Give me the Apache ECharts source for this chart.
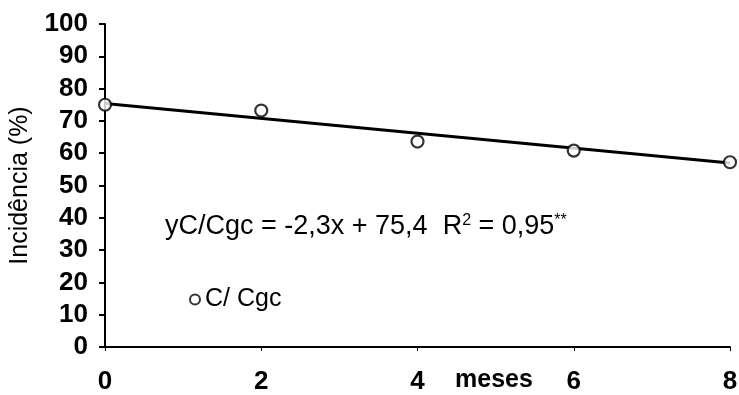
<!DOCTYPE html>
<html>
<head>
<meta charset="utf-8">
<script src="https://cdn.jsdelivr.net/npm/echarts@6/dist/echarts.min.js"></script>
<style>
  html, body { margin: 0; padding: 0; background: #fff; }
  #chart { width: 739px; height: 395px; }
</style>
</head>
<body>
<div id="chart"></div>
<script>
// Months since treatment and observed incidence (%) for the C/ Cgc group
const months = [0, 2, 4, 6, 8];
const incidence = [75.0, 73.2, 63.6, 60.8, 57.2];

// Linear fit reported on the chart: y = slope * x + intercept
const slope = -2.3;
const intercept = 75.4;
const fitRange = [0, 8];

const yTicks = { min: 0, max: 100, interval: 10 };
const xTicks = { min: 0, max: 8, interval: 2 };

const seriesName = 'C/ Cgc';
const axisTitleY = 'Incidência (%)';
const axisTitleX = 'meses';

const fitLine = fitRange.map(x => [x, +(slope * x + intercept).toFixed(2)]);
const points = months.map((m, i) => [m, incidence[i]]);

const font = '"Liberation Sans", Arial, sans-serif';
const chart = echarts.init(document.getElementById('chart'));

chart.setOption({
  animation: false,
  backgroundColor: '#fff',
  grid: { left: 105, right: 9, top: 24, bottom: 48, containLabel: false, outerBoundsMode: 'none' },
  xAxis: {
    type: 'value',
    min: xTicks.min, max: xTicks.max, interval: xTicks.interval,
    axisLine: { lineStyle: { color: '#000', width: 2 } },
    axisTick: { show: true, length: 4, lineStyle: { color: '#000', width: 1 } },
    axisLabel: { color: '#000', fontFamily: font, fontWeight: 'bold', fontSize: 26, margin: 22 },
    splitLine: { show: false }
  },
  yAxis: {
    type: 'value',
    min: yTicks.min, max: yTicks.max, interval: yTicks.interval,
    name: axisTitleY,
    nameLocation: 'middle',
    nameGap: 72,
    nameTextStyle: { color: '#000', fontFamily: font, fontSize: 25 },
    axisLine: { show: true, lineStyle: { color: '#000', width: 2 } },
    axisTick: { show: true, length: 6, lineStyle: { color: '#000', width: 2 } },
    axisLabel: { color: '#000', fontFamily: font, fontWeight: 'bold', fontSize: 26, margin: 17 },
    splitLine: { show: false }
  },
  legend: {
    show: true,
    left: 184, top: 282,
    itemWidth: 10, itemHeight: 10,
    itemGap: 6,
    data: [{ name: seriesName, icon: 'circle' }],
    textStyle: { color: '#000', fontFamily: font, fontSize: 25 }
  },
  series: [
    {
      name: 'fit',
      type: 'line',
      data: fitLine,
      showSymbol: false,
      lineStyle: { color: '#000', width: 3 },
      z: 2,
      silent: true
    },
    {
      name: seriesName,
      type: 'scatter',
      data: points,
      symbol: 'circle',
      symbolSize: 12,
      itemStyle: { color: '#fff', borderColor: '#000', borderWidth: 2.2 },
      z: 3
    }
  ],
  graphic: [
    {
      type: 'text',
      left: 455, top: 368,
      style: { text: axisTitleX, fill: '#000', font: 'bold 25px ' + font }
    },
    {
      type: 'text',
      left: 165, top: 213,
      style: {
        text: '{t|yC/Cgc = -2,3x + 75,4  R}{s|2}{t| = 0,95}{s|**}',
        rich: {
          t: { fill: '#000', fontFamily: font, fontSize: 27 },
          s: { fill: '#000', fontFamily: font, fontSize: 16, verticalAlign: 'top', padding: [0, 0, 12, 0] }
        }
      }
    }
  ]
});
</script>
</body>
</html>
